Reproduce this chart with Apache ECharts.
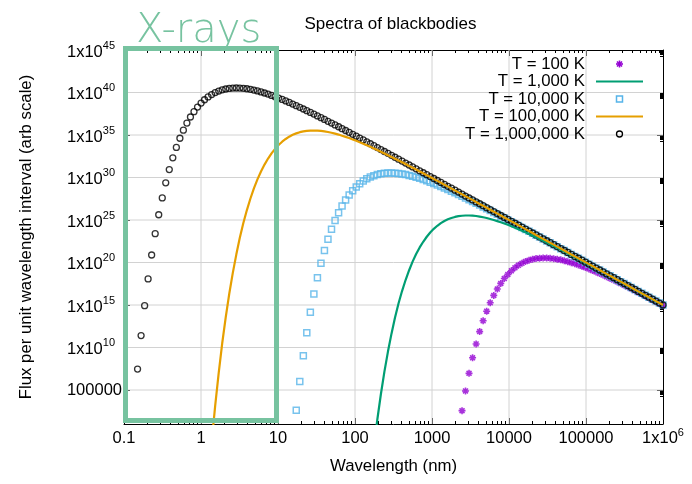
<!DOCTYPE html>
<html>
<head>
<meta charset="utf-8">
<title>Spectra of blackbodies</title>
<script src="https://cdn.jsdelivr.net/npm/echarts@6/dist/echarts.min.js"></script>
<style>
  html, body { margin: 0; padding: 0; background: #ffffff; }
  #chart { width: 692px; height: 484px; }
</style>
</head>
<body>
<div id="chart"></div>
<script>
// Sampled wavelengths, log10 of nm (150 samples from 0.15 nm to 1e6 nm).
const logWavelengthNm = [
  -0.824, -0.778, -0.732, -0.687, -0.641, -0.595, -0.549, -0.503, -0.458, -0.412,
  -0.366, -0.320, -0.274, -0.229, -0.183, -0.137, -0.091, -0.045, 0.001, 0.046,
  0.092, 0.138, 0.184, 0.230, 0.275, 0.321, 0.367, 0.413, 0.459, 0.504,
  0.550, 0.596, 0.642, 0.687, 0.733, 0.779, 0.825, 0.871, 0.916, 0.962,
  1.008, 1.054, 1.100, 1.145, 1.191, 1.237, 1.283, 1.329, 1.374, 1.420,
  1.466, 1.512, 1.558, 1.603, 1.649, 1.695, 1.741, 1.787, 1.832, 1.878,
  1.924, 1.970, 2.016, 2.061, 2.107, 2.153, 2.199, 2.245, 2.290, 2.336,
  2.382, 2.428, 2.474, 2.519, 2.565, 2.611, 2.657, 2.703, 2.748, 2.794,
  2.840, 2.886, 2.932, 2.977, 3.023, 3.069, 3.115, 3.161, 3.206, 3.252,
  3.298, 3.344, 3.390, 3.435, 3.481, 3.527, 3.573, 3.619, 3.664, 3.710,
  3.756, 3.802, 3.848, 3.893, 3.939, 3.985, 4.031, 4.077, 4.122, 4.168,
  4.214, 4.260, 4.306, 4.351, 4.397, 4.443, 4.489, 4.534, 4.580, 4.626,
  4.672, 4.718, 4.763, 4.809, 4.855, 4.901, 4.947, 4.992, 5.038, 5.084,
  5.130, 5.176, 5.221, 5.267, 5.313, 5.359, 5.405, 5.450, 5.496, 5.542,
  5.588, 5.634, 5.679, 5.725, 5.771, 5.817, 5.863, 5.908, 5.954, 6.000
];

// log10 flux per series; each list runs up to the last wavelength sample.
const logFlux100K = [
  2.57, 4.89, 6.96, 8.79, 10.42, 11.87, 13.14, 14.27,
  15.26, 16.13, 16.88, 17.54, 18.11, 18.60, 19.02, 19.38, 19.67, 19.91,
  20.11, 20.26, 20.38, 20.46, 20.51, 20.53, 20.53, 20.50, 20.45, 20.39,
  20.31, 20.21, 20.10, 19.98, 19.85, 19.71, 19.56, 19.40, 19.24, 19.06,
  18.89, 18.70, 18.52, 18.33, 18.13, 17.93, 17.73, 17.53, 17.32, 17.11,
  16.90, 16.69, 16.47, 16.26, 16.04, 15.82, 15.60, 15.38, 15.16, 14.94
];

const logFlux1000K = [
  -1.80, 1.53, 4.50,
  7.16, 9.52, 11.63, 13.50, 15.17, 16.64, 17.94, 19.09, 20.10, 20.99,
  21.77, 22.44, 23.03, 23.53, 23.96, 24.32, 24.63, 24.88, 25.08, 25.24,
  25.36, 25.45, 25.50, 25.53, 25.53, 25.51, 25.47, 25.40, 25.32, 25.23,
  25.12, 25.00, 24.87, 24.73, 24.59, 24.43, 24.26, 24.09, 23.92, 23.73,
  23.55, 23.36, 23.16, 22.97, 22.76, 22.56, 22.35, 22.14, 21.93, 21.72,
  21.51, 21.29, 21.07, 20.86, 20.64, 20.42, 20.20, 19.97, 19.75, 19.53,
  19.30, 19.08, 18.86, 18.63, 18.40, 18.18, 17.95, 17.73, 17.50, 17.27,
  17.04, 16.82, 16.59, 16.36, 16.13, 15.91, 15.68, 15.45, 15.22, 14.99
];

const logFlux10000K = [
  2.61, 6.01, 9.04, 11.74, 14.15,
  16.30, 18.21, 19.90, 21.41, 22.74, 23.92, 24.95, 25.86, 26.65, 27.34,
  27.94, 28.45, 28.89, 29.27, 29.58, 29.84, 30.05, 30.22, 30.35, 30.44,
  30.50, 30.53, 30.53, 30.51, 30.47, 30.41, 30.34, 30.25, 30.14, 30.03,
  29.90, 29.76, 29.61, 29.45, 29.29, 29.12, 28.95, 28.77, 28.58, 28.39,
  28.20, 28.00, 27.80, 27.59, 27.39, 27.18, 26.97, 26.76, 26.54, 26.33,
  26.11, 25.89, 25.67, 25.45, 25.23, 25.01, 24.79, 24.56, 24.34, 24.12,
  23.89, 23.67, 23.44, 23.22, 22.99, 22.76, 22.54, 22.31, 22.08, 21.85,
  21.63, 21.40, 21.17, 20.94, 20.72, 20.49, 20.26, 20.03, 19.80, 19.57,
  19.35, 19.12, 18.89, 18.66, 18.43, 18.20, 17.97, 17.75, 17.52, 17.29,
  17.06, 16.83, 16.60, 16.37, 16.14, 15.91, 15.69, 15.46, 15.23, 15.00
];

const logFlux100000K = [
  -1.18, 3.14, 7.01, 10.47, 13.55, 16.32, 18.78, 20.96, 22.91,
  24.64, 26.17, 27.53, 28.73, 29.78, 30.71, 31.52, 32.23, 32.84, 33.37,
  33.83, 34.21, 34.53, 34.80, 35.02, 35.19, 35.33, 35.42, 35.49, 35.52,
  35.53, 35.52, 35.48, 35.43, 35.35, 35.26, 35.16, 35.05, 34.92, 34.78,
  34.64, 34.48, 34.32, 34.15, 33.98, 33.80, 33.61, 33.42, 33.23, 33.03,
  32.83, 32.63, 32.42, 32.21, 32.00, 31.79, 31.58, 31.36, 31.15, 30.93,
  30.71, 30.49, 30.27, 30.05, 29.83, 29.60, 29.38, 29.15, 28.93, 28.70,
  28.48, 28.25, 28.03, 27.80, 27.57, 27.35, 27.12, 26.89, 26.67, 26.44,
  26.21, 25.98, 25.75, 25.53, 25.30, 25.07, 24.84, 24.61, 24.38, 24.16,
  23.93, 23.70, 23.47, 23.24, 23.01, 22.78, 22.55, 22.33, 22.10, 21.87,
  21.64, 21.41, 21.18, 20.95, 20.72, 20.49, 20.27, 20.04, 19.81, 19.58,
  19.35, 19.12, 18.89, 18.66, 18.43, 18.21, 17.98, 17.75, 17.52, 17.29,
  17.06, 16.83, 16.60, 16.37, 16.14, 15.92, 15.69, 15.46, 15.23, 15.00
];

const logFlux1000000K = [
  7.46, 11.40, 14.92, 18.07, 20.88, 23.39, 25.62, 27.60, 29.37, 30.93,
  32.32, 33.54, 34.62, 35.57, 36.40, 37.12, 37.75, 38.29, 38.76, 39.15,
  39.48, 39.76, 39.99, 40.17, 40.31, 40.41, 40.48, 40.52, 40.53, 40.52,
  40.49, 40.44, 40.37, 40.28, 40.18, 40.07, 39.94, 39.81, 39.66, 39.51,
  39.35, 39.18, 39.01, 38.83, 38.64, 38.45, 38.26, 38.06, 37.86, 37.66,
  37.46, 37.25, 37.04, 36.83, 36.61, 36.40, 36.18, 35.97, 35.75, 35.53,
  35.31, 35.08, 34.86, 34.64, 34.42, 34.19, 33.97, 33.74, 33.52, 33.29,
  33.06, 32.84, 32.61, 32.38, 32.16, 31.93, 31.70, 31.47, 31.25, 31.02,
  30.79, 30.56, 30.33, 30.11, 29.88, 29.65, 29.42, 29.19, 28.96, 28.74,
  28.51, 28.28, 28.05, 27.82, 27.59, 27.36, 27.13, 26.91, 26.68, 26.45,
  26.22, 25.99, 25.76, 25.53, 25.30, 25.07, 24.85, 24.62, 24.39, 24.16,
  23.93, 23.70, 23.47, 23.24, 23.01, 22.79, 22.56, 22.33, 22.10, 21.87,
  21.64, 21.41, 21.18, 20.95, 20.72, 20.50, 20.27, 20.04, 19.81, 19.58,
  19.35, 19.12, 18.89, 18.66, 18.43, 18.21, 17.98, 17.75, 17.52, 17.29,
  17.06, 16.83, 16.60, 16.37, 16.14, 15.92, 15.69, 15.46, 15.23, 15.00
];

const seriesNames = ['T = 100 K', 'T = 1,000 K', 'T = 10,000 K', 'T = 100,000 K', 'T = 1,000,000 K'];

// Axis extents in decades, and the decades that carry a labelled tick
const xDecadeRange = [-1, 6];
const yDecadeRange = [1, 45];
const yMajorDecades = [5, 10, 15, 20, 25, 30, 35, 40, 45];

const FONT = '"Liberation Sans", Arial, Helvetica, sans-serif';
const GREEN_BOX = '#77c3a0';
const PURPLE = '#9400d3', GREEN = '#009e73', SKY = '#56b4e9', ORANGE = '#e69f00', INK = '#000000';
const GRID_GREY = '#d2d2d2';

function toPoints(logFlux) {
  const offset = logWavelengthNm.length - logFlux.length;
  return logFlux.map((f, i) => [logWavelengthNm[offset + i], f]);
}

// minor ticks at 2..9 within each decade
const xMinorTicks = [];
for (let n = xDecadeRange[0]; n < xDecadeRange[1]; n++) {
  for (let m = 2; m <= 9; m++) xMinorTicks.push(n + Math.log10(m));
}
const yMinorTicks = [];
yMajorDecades.forEach(n => {
  for (let m = 2; m <= 9; m++) yMinorTicks.push(n - 1 + Math.log10(m));
});

// Faint grid rules across the plot at the inner major ticks
const gridRuleSeries = [];
for (let n = xDecadeRange[0] + 1; n < xDecadeRange[1]; n++) {
  gridRuleSeries.push([[n, yDecadeRange[0]], [n, yDecadeRange[1]]]);
}
yMajorDecades.filter(n => n < yDecadeRange[1]).forEach(n => {
  gridRuleSeries.push([[xDecadeRange[0], n], [xDecadeRange[1], n]]);
});

const tickText = { fontFamily: FONT, color: '#000' };
const xRich = {
  xp: Object.assign({ fontSize: 16.5, padding: [3, 0, 3, 0] }, tickText),
  xb: Object.assign({ fontSize: 16.5 }, tickText),
  xs: Object.assign({ fontSize: 11, padding: [0, 0, 12, 0] }, tickText)
};
const yRich = {
  yp: Object.assign({ fontSize: 16.5 }, tickText),
  yb: Object.assign({ fontSize: 16.5, padding: [4, 0, 0, 0] }, tickText),
  ys: Object.assign({ fontSize: 11, padding: [0, 7, 9, 0] }, tickText)
};

function xLabel(v) {
  if (v === 6) return '{xb|1x10}{xs|6}';
  const s = v < 0 ? '0.1' : String(Math.round(Math.pow(10, v)));
  return '{xp|' + s + '}';
}
function yLabel(v) {
  if (v === 5) return '{yp|100000}';
  return '{yb|1x10}{ys|' + v + '}';
}

const axisLineStyle = { show: true, onZero: false, lineStyle: { color: '#000', width: 1 } };
const noAxisLine = { show: false, onZero: false };

function xAxisDef(position, major, labels) {
  return {
    type: 'value', gridIndex: 0, position: position,
    min: xDecadeRange[0], max: xDecadeRange[1], interval: 1,
    axisLine: major ? axisLineStyle : noAxisLine,
    axisTick: major
      ? { show: true, inside: true, length: 6, lineStyle: { color: '#000' } }
      : { show: true, inside: true, length: 3, customValues: xMinorTicks, lineStyle: { color: '#000' } },
    axisLabel: labels
      ? { show: true, margin: 3, formatter: xLabel, rich: xRich, showMinLabel: true, showMaxLabel: true, hideOverlap: false }
      : { show: false },
    splitLine: { show: false },
    name: labels ? 'Wavelength (nm)' : '',
    nameLocation: 'middle', nameGap: 34,
    nameTextStyle: { fontFamily: FONT, fontSize: 16.8, color: '#000' }
  };
}
function yAxisDef(position, major, labels) {
  return {
    type: 'value', gridIndex: 0, position: position,
    min: yDecadeRange[0], max: yDecadeRange[1],
    axisLine: major ? axisLineStyle : noAxisLine,
    axisTick: major
      ? { show: true, inside: true, length: 6, customValues: yMajorDecades, lineStyle: { color: '#000' } }
      : { show: true, inside: true, length: 3, customValues: yMinorTicks, lineStyle: { color: '#000' } },
    axisLabel: labels
      ? { show: true, margin: 2, customValues: yMajorDecades, formatter: yLabel, rich: yRich, showMinLabel: true, showMaxLabel: true, hideOverlap: false }
      : { show: false },
    splitLine: { show: false },
    name: labels ? 'Flux per unit wavelength interval (arb scale)' : '',
    nameLocation: 'middle', nameRotate: 90, nameGap: 89,
    nameTextStyle: { fontFamily: FONT, fontSize: 16.8, color: '#000' }
  };
}

const asterisk = 'path://M0,5L10,5M5,0L5,10M1.5,1.5L8.5,8.5M1.5,8.5L8.5,1.5';

const chart = echarts.init(document.getElementById('chart'), null, { renderer: 'canvas' });

const ruleSeries = gridRuleSeries.map((pts, i) => ({
  name: 'rule ' + i, type: 'line', data: pts, z: 1,
  symbol: 'none', showSymbol: false, clip: true, silent: true,
  lineStyle: { color: GRID_GREY, width: 1 }, itemStyle: { color: GRID_GREY }
}));

chart.setOption({
  animation: false,
  backgroundColor: '#ffffff',
  grid: { left: 124, right: 29, top: 50, bottom: 60, containLabel: false },
  xAxis: [
    xAxisDef('bottom', true, true),
    xAxisDef('top', true, false),
    xAxisDef('bottom', false, false),
    xAxisDef('top', false, false)
  ],
  yAxis: [
    yAxisDef('left', true, true),
    yAxisDef('right', true, false),
    yAxisDef('left', false, false),
    yAxisDef('right', false, false)
  ],
  series: ruleSeries.concat([
    {
      name: seriesNames[0], type: 'scatter', data: toPoints(logFlux100K),
      symbol: asterisk, symbolSize: 7, clip: true, silent: true,
      itemStyle: { color: 'rgba(0,0,0,0)', borderColor: PURPLE, borderWidth: 1.6 }
    },
    {
      name: seriesNames[1], type: 'line', data: toPoints(logFlux1000K),
      symbol: 'none', showSymbol: false, clip: true, silent: true,
      lineStyle: { color: GREEN, width: 2.2 }, itemStyle: { color: GREEN }
    },
    {
      name: seriesNames[2], type: 'scatter', data: toPoints(logFlux10000K),
      symbol: 'rect', symbolSize: 6, clip: true, silent: true,
      itemStyle: { color: 'rgba(0,0,0,0)', borderColor: SKY, borderWidth: 1.5 }
    },
    {
      name: seriesNames[3], type: 'line', data: toPoints(logFlux100000K),
      symbol: 'none', showSymbol: false, clip: true, silent: true,
      lineStyle: { color: ORANGE, width: 2.2 }, itemStyle: { color: ORANGE }
    },
    {
      name: seriesNames[4], type: 'scatter', data: toPoints(logFlux1000000K),
      symbol: 'circle', symbolSize: 6, clip: true, silent: true,
      itemStyle: { color: 'rgba(0,0,0,0)', borderColor: INK, borderWidth: 1.3 }
    }
  ])
});

// Key: right-aligned names with a sample line or marker beside each
const keyTextRight = 585, keySampleLeft = 596, keySampleRight = 643, keyTop = 64, keyRowStep = 17.5;
const keySampleMid = (keySampleLeft + keySampleRight) / 2;
const keyItems = [];
seriesNames.forEach((name, i) => {
  const y = keyTop + i * keyRowStep;
  keyItems.push({
    type: 'text', z: 50, silent: true, x: keyTextRight, y: y,
    style: { text: name, fill: '#000', font: '16.8px "Liberation Sans", Arial, sans-serif', align: 'right', verticalAlign: 'middle' }
  });
  let sample;
  if (i === 1 || i === 3) {
    sample = { type: 'line', shape: { x1: keySampleLeft, y1: y, x2: keySampleRight, y2: y },
      style: { stroke: i === 1 ? GREEN : ORANGE, lineWidth: 2.2 } };
  } else if (i === 0) {
    const r = 3.5, d = 2.5;
    sample = { type: 'group', children: [
      { type: 'line', shape: { x1: keySampleMid - r, y1: y, x2: keySampleMid + r, y2: y }, style: { stroke: PURPLE, lineWidth: 1.6 } },
      { type: 'line', shape: { x1: keySampleMid, y1: y - r, x2: keySampleMid, y2: y + r }, style: { stroke: PURPLE, lineWidth: 1.6 } },
      { type: 'line', shape: { x1: keySampleMid - d, y1: y - d, x2: keySampleMid + d, y2: y + d }, style: { stroke: PURPLE, lineWidth: 1.6 } },
      { type: 'line', shape: { x1: keySampleMid - d, y1: y + d, x2: keySampleMid + d, y2: y - d }, style: { stroke: PURPLE, lineWidth: 1.6 } }
    ] };
  } else if (i === 2) {
    sample = { type: 'rect', shape: { x: keySampleMid - 3, y: y - 3, width: 6, height: 6 },
      style: { fill: 'none', stroke: SKY, lineWidth: 1.5 } };
  } else {
    sample = { type: 'circle', shape: { cx: keySampleMid, cy: y, r: 3 },
      style: { fill: 'none', stroke: INK, lineWidth: 1.3 } };
  }
  sample.z = 50; sample.silent = true;
  keyItems.push(sample);
});

// X-ray band outline (0.1 nm to 10 nm) and its caption, plus the title
const bandTL = chart.convertToPixel({ gridIndex: 0 }, [-1, yDecadeRange[1]]);
const bandBR = chart.convertToPixel({ gridIndex: 0 }, [1, yDecadeRange[0]]);

chart.setOption({
  graphic: [
    {
      type: 'rect', z: 100, silent: true,
      shape: {
        x: bandTL[0] + 1.5, y: bandTL[1] - 1.5,
        width: bandBR[0] - bandTL[0] - 3, height: bandBR[1] - bandTL[1] - 2
      },
      style: { fill: 'none', stroke: GREEN_BOX, lineWidth: 5 }
    },
    {
      type: 'text', z: 100, silent: true,
      x: bandTL[0] + 12, y: 32,
      style: {
        text: 'X-rays', fill: GREEN_BOX,
        font: '200 40px "DejaVu Sans", sans-serif',
        align: 'left', verticalAlign: 'middle'
      }
    },
    {
      type: 'text', z: 100, silent: true,
      x: 390.5, y: 24.7,
      style: {
        text: 'Spectra of blackbodies', fill: '#000',
        font: '17px "Liberation Sans", Arial, sans-serif',
        align: 'center', verticalAlign: 'middle'
      }
    }
  ].concat(keyItems)
});
</script>
</body>
</html>
